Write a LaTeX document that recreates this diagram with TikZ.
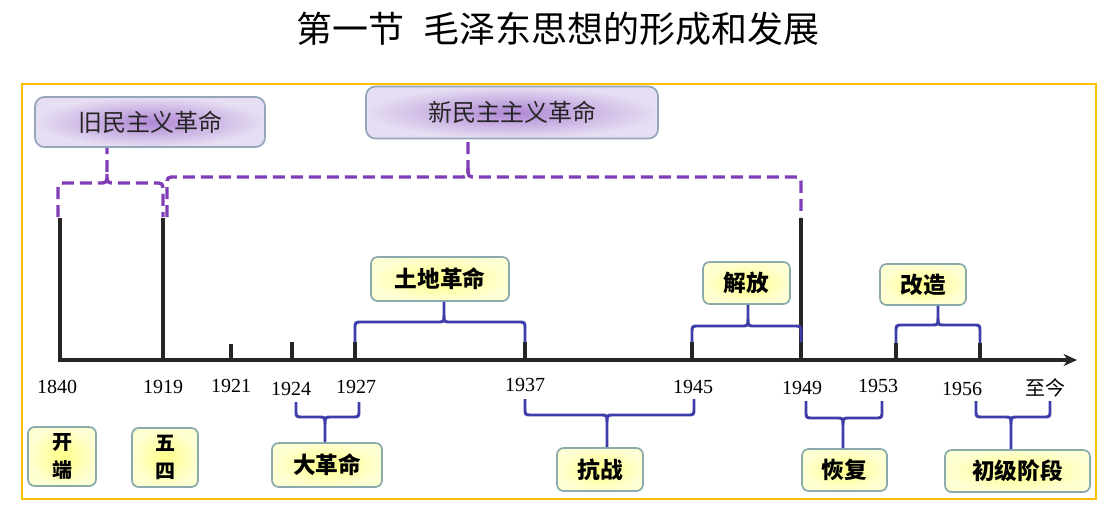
\documentclass[tikz,border=0pt]{standalone}
\usepackage{fontspec}
\setmainfont{Liberation Serif}
\newfontfamily\cjk{Noto Sans CJK SC}
\usetikzlibrary{arrows.meta}

\definecolor{frameorange}{RGB}{255,192,0}
\definecolor{bracketblue}{RGB}{62,62,170}
\definecolor{dashpurple}{RGB}{128,62,182}
\definecolor{boxedge}{RGB}{138,170,172}
\definecolor{pboxedge}{RGB}{150,165,185}
\definecolor{yin}{RGB}{255,255,135}
\definecolor{yout}{RGB}{255,255,212}
\definecolor{pin}{RGB}{175,135,212}
\definecolor{pout}{RGB}{230,222,242}

\tikzset{
  ybox/.style={draw=boxedge, line width=1.3pt, rounded corners=5pt,
    inner color=yin, outer color=yout, inner sep=0pt, align=center,
    font=\cjk\bfseries\fontsize{17pt}{21pt}\selectfont},
  pbox/.style={draw=pboxedge, line width=1.3pt, rounded corners=7pt,
    inner color=pin, outer color=pout, inner sep=0pt,
    text=black!85, font=\cjk\fontsize{18pt}{22pt}\selectfont},
  yearlbl/.style={inner sep=0pt, font=\fontsize{15pt}{17pt}\selectfont},
  timeline/.style={line width=2.3pt, draw=black!85},
  bluebrace/.style={line width=2.2pt, draw=bracketblue},
  purplebrace/.style={line width=2.5pt, draw=dashpurple, dash pattern=on 9pt off 4.5pt},
}

% brace opening downwards, nub pointing up to a box
% #1 left x, #2 right x, #3 bar y, #4 end y, #5 nub x, #6 box, #7 style, #8 radius
\newcommand\braceup[8]{%
  \draw[#7] (#1,#4) -- (#1,#3+#8) .. controls (#1,#3) .. (#1+#8,#3)
    -- (#5-#8,#3) .. controls (#5,#3) .. (#5,#3-#8) -- (#5,0 |- #6.south);
  \draw[#7] (#5,#3-#8) .. controls (#5,#3) .. (#5+#8,#3)
    -- (#2-#8,#3) .. controls (#2,#3) .. (#2,#3+#8) -- (#2,#4);
}
% brace opening upwards, nub pointing down to a box
\newcommand\bracedown[8]{%
  \draw[#7] (#1,#4) -- (#1,#3-#8) .. controls (#1,#3) .. (#1+#8,#3)
    -- (#5-#8,#3) .. controls (#5,#3) .. (#5,#3+#8) -- (#5,0 |- #6.north);
  \draw[#7] (#5,#3+#8) .. controls (#5,#3) .. (#5+#8,#3)
    -- (#2-#8,#3) .. controls (#2,#3) .. (#2,#3-#8) -- (#2,#4);
}

\begin{document}
\begin{tikzpicture}[x=0.75pt,y=-0.75pt]
\useasboundingbox (0,0) rectangle (1118,511);

% title
\node[inner sep=0pt, font=\cjk\fontsize{27pt}{31pt}\selectfont] (title) at (558,29)
  {第一节\hspace{15pt}毛泽东思想的形成和发展};

% frame
\draw[frameorange, line width=1.6pt] (22,84) rectangle (1096,499);

% era boxes
\node[pbox, minimum width=172.5pt, minimum height=37.5pt] (oldrev) at (150,122) {旧民主义革命};
\node[pbox, minimum width=219pt, minimum height=39pt] (newrev) at (512,112.5) {新民主主义革命};

% period boxes above the axis
\node[ybox, minimum width=103.5pt, minimum height=33pt] (tudi) at (440,279) {土地革命};
\node[ybox, minimum width=65.25pt, minimum height=31.5pt] (jiefang) at (746.5,283) {解放};
\node[ybox, minimum width=64.5pt, minimum height=30.75pt] (gaizao) at (923,284.5) {改造};

% period boxes below the axis
\node[ybox, minimum width=51pt, minimum height=44.25pt, font=\cjk\bfseries\fontsize{15pt}{21pt}\selectfont] (kaiduan) at (62,456.5) {开\\端};
\node[ybox, minimum width=49.5pt, minimum height=44.25pt, font=\cjk\bfseries\fontsize{15pt}{21pt}\selectfont] (wusi) at (165,457.5) {五\\四};
\node[ybox, minimum width=82.5pt, minimum height=33pt] (dageming) at (327,465) {大革命};
\node[ybox, minimum width=64.5pt, minimum height=32.25pt] (kangzhan) at (600,469.5) {抗战};
\node[ybox, minimum width=63.75pt, minimum height=31.5pt] (huifu) at (844.5,470) {恢复};
\node[ybox, minimum width=108.75pt, minimum height=31.5pt] (chuji) at (1017.5,471) {初级阶段};

% axis with the 1840 line
\draw[timeline, line join=miter, -{Stealth[length=10pt,width=9pt,inset=3pt]}]
  (60,218) -- (60,360) -- (1077,360);
\draw[timeline] (163,360) -- (163,218);
\draw[timeline] (801,360) -- (801,218);
% short ticks
\foreach \x/\t in {231/344, 292/342, 355/342, 525/342, 692/342, 896/343, 980/343}
  \draw[timeline] (\x,360) -- (\x,\t);

% year labels
\node[yearlbl] (y1840) at (57,387) {1840};
\node[yearlbl] (y1919) at (163,387) {1919};
\node[yearlbl] (y1921) at (231,386) {1921};
\node[yearlbl] (y1924) at (291,389) {1924};
\node[yearlbl] (y1927) at (356,387) {1927};
\node[yearlbl] (y1937) at (525,385) {1937};
\node[yearlbl] (y1945) at (693,387) {1945};
\node[yearlbl] (y1949) at (802,388) {1949};
\node[yearlbl] (y1953) at (878,386) {1953};
\node[yearlbl] (y1956) at (962,389) {1956};
\node[yearlbl, font=\cjk\fontsize{15pt}{17pt}\selectfont] (ynow) at (1045,388) {至今};

% purple dashed braces
\braceup{58}{163}{183}{217}{107}{oldrev}{purplebrace}{9}
\braceup{167}{801}{177}{217}{468}{newrev}{purplebrace}{9}

% blue braces above the axis
\braceup{355}{525}{322}{342}{444}{tudi}{bluebrace}{7}
\braceup{692}{801}{326}{342}{748}{jiefang}{bluebrace}{7}
\braceup{896}{980}{325}{343}{938}{gaizao}{bluebrace}{7}

% blue braces below the axis
\bracedown{296}{359}{417}{402}{325}{dageming}{bluebrace}{7}
\bracedown{525}{694}{415}{399}{607}{kangzhan}{bluebrace}{7}
\bracedown{806}{882}{418}{401}{843}{huifu}{bluebrace}{7}
\bracedown{976}{1050}{417}{401}{1011}{chuji}{bluebrace}{7}
\end{tikzpicture}
\end{document}
